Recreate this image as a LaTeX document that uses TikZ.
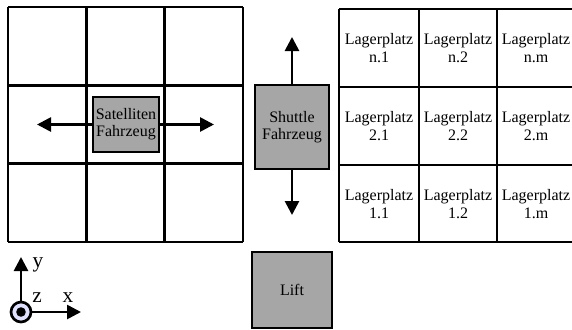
\documentclass[tikz,border=0pt]{standalone}
\usepackage{fontspec}
\setmainfont{Liberation Serif}
\newfontfamily\tnr{Liberation Serif}
\usetikzlibrary{arrows.meta, positioning}

\begin{document}
\begin{tikzpicture}[
    x=0.75pt, y=-0.75pt,
    gridline/.style={line width=2pt},
    vehicle/.style={rectangle, draw, line width=2pt, fill=black!35, align=center, inner sep=0pt, font=\tnr\fontsize{12}{13}\selectfont},
    slot/.style={rectangle, align=center, inner sep=0pt, font=\tnr\fontsize{12}{13}\selectfont},
    move/.style={line width=2pt, -{Triangle[length=10.5pt,width=10.5pt]}},
    axislabel/.style={inner sep=0pt, font=\tnr\fontsize{16}{16}\selectfont}
]
\useasboundingbox (0,0) rectangle (572,329);
\clip (0,0) rectangle (572,329);

% Grid of the satellite
\foreach \p in {8,86.3,164.6,243} {
  \draw[gridline] (\p,7) -- (\p,242);
  \draw[gridline] (8,\p-1) -- (243,\p-1);
}

% Storage grid
\foreach \p in {339,419,497,575} \draw[gridline] (\p,9) -- (\p,242);
\foreach \p in {9,87,165,242} \draw[gridline] (339,\p) -- (575,\p);

\node[slot] (lpn1) at (379,48) {Lagerplatz\\n.1};
\node[slot] (lpn2) at (458,48) {Lagerplatz\\n.2};
\node[slot] (lpnm) at (536,48) {Lagerplatz\\n.m};
\node[slot] (lp21) at (379,126) {Lagerplatz\\2.1};
\node[slot] (lp22) at (458,126) {Lagerplatz\\2.2};
\node[slot] (lp2m) at (536,126) {Lagerplatz\\2.m};
\node[slot] (lp11) at (379,204) {Lagerplatz\\1.1};
\node[slot] (lp12) at (458,204) {Lagerplatz\\1.2};
\node[slot] (lp1m) at (536,204) {Lagerplatz\\1.m};

% Vehicles
\node[vehicle, minimum width=49.5pt, minimum height=41.25pt] (sat) at (126,124.5) {Satelliten\\Fahrzeug};
\node[vehicle, minimum width=55.5pt, minimum height=63pt] (shuttle) at (292,127) {Shuttle\\Fahrzeug};
\node[vehicle, minimum width=60pt, minimum height=57pt] (lift) at (292,290) {Lift};

\coordinate (satl) at (37,124.5);
\coordinate (satr) at (214,124.5);
\coordinate (shup) at (292,37);
\coordinate (shdown) at (292,215);

\draw[move] (sat) -- (satl);
\draw[move] (sat) -- (satr);
\draw[move] (shuttle) -- (shup);
\draw[move] (shuttle) -- (shdown);

% Coordinate system
\node[circle, draw, line width=2pt, fill=blue!12, minimum size=15pt, inner sep=0pt] (orig) at (21,312) {};
\fill (orig.center) circle (3.6pt);
\coordinate (ytip) at (21,257);
\coordinate (xtip) at (81,312);
\draw[move] (orig) -- (ytip);
\draw[move] (orig) -- (xtip);
\node[axislabel] (ylab) at (38,265) {y};
\node[axislabel] (zlab) at (37,298) {z};
\node[axislabel] (xlab) at (68,298) {x};

\end{tikzpicture}
\end{document}
